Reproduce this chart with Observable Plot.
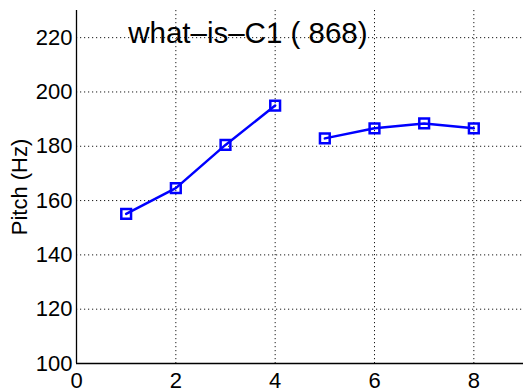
<!DOCTYPE html>
<html>
<head>
<meta charset="utf-8">
<script src="https://cdn.jsdelivr.net/npm/d3@7"></script>
<script src="https://cdn.jsdelivr.net/npm/@observablehq/plot@0.6"></script>
<style>
  html, body { margin: 0; padding: 0; background: #fff; }
</style>
</head>
<body>
<div id="chart"></div>
<script>
// Pitch track per frame, drawn as two voiced segments
const frames = [1, 2, 3, 4, 5, 6, 7, 8];
const pitch = [155.1, 164.6, 180.5, 195.0, 182.9, 186.6, 188.4, 186.6];
const segment = ["s1", "s1", "s1", "s1", "s2", "s2", "s2", "s2"];

const xTicks = [0, 2, 4, 6, 8];
const yTicks = [100, 120, 140, 160, 180, 200, 220];
const gridX = [2, 4, 6, 8];
const gridY = [120, 140, 160, 180, 200, 220];
const title = "what\u2013is\u2013C1 ( 868)";
const titlePos = {x: 1, y: 220};

const points = frames.map((f, i) => ({frame: f, pitch: pitch[i], seg: segment[i]}));

const blue = "#0000ff";
const dots = "1.2,2.8";
const font = "'Liberation Sans', Arial, Helvetica, sans-serif";

const chart = Plot.plot({
  width: 523,
  height: 388,
  marginLeft: 76,
  marginRight: 0,
  marginTop: 10,
  marginBottom: 25,
  style: {fontFamily: font, fontSize: "22px", color: "#000", background: "#fff"},
  x: {domain: [0, 9]},
  y: {domain: [100, 230]},
  marks: [
    // dotted grid
    Plot.ruleX(gridX, {stroke: "#000", strokeWidth: 1, strokeDasharray: dots, strokeOpacity: 0.9}),
    Plot.ruleY(gridY, {stroke: "#000", strokeWidth: 1, strokeDasharray: dots, strokeOpacity: 0.9}),
    // axes
    Plot.axisX({ticks: xTicks, tickSize: 0, tickPadding: 9, label: null, fontSize: 22}),
    Plot.axisY({ticks: yTicks, tickSize: 0, tickPadding: 4, label: null, fontSize: 22}),
    Plot.text(["Pitch (Hz)"], {frameAnchor: "left", dx: -57, rotate: -90, fontSize: 22, lineAnchor: "middle", textAnchor: "middle"}),
    Plot.ruleX([0], {stroke: "#000", strokeWidth: 1.3}),
    Plot.ruleY([100], {stroke: "#000", strokeWidth: 1.3}),
    // annotation inside the axes
    Plot.text([title], {x: () => titlePos.x, y: () => titlePos.y, textAnchor: "start", lineAnchor: "middle", dx: 2, dy: -4, fontSize: 29.5, fill: "#000"}),
    // pitch contour
    Plot.line(points, {x: "frame", y: "pitch", z: "seg", stroke: blue, strokeWidth: 2.5}),
    Plot.dot(points, {x: "frame", y: "pitch", symbol: "square", r: 5.5, stroke: blue, strokeWidth: 2.5, fill: "none"})
  ]
});

document.getElementById("chart").appendChild(chart);
</script>
</body>
</html>
